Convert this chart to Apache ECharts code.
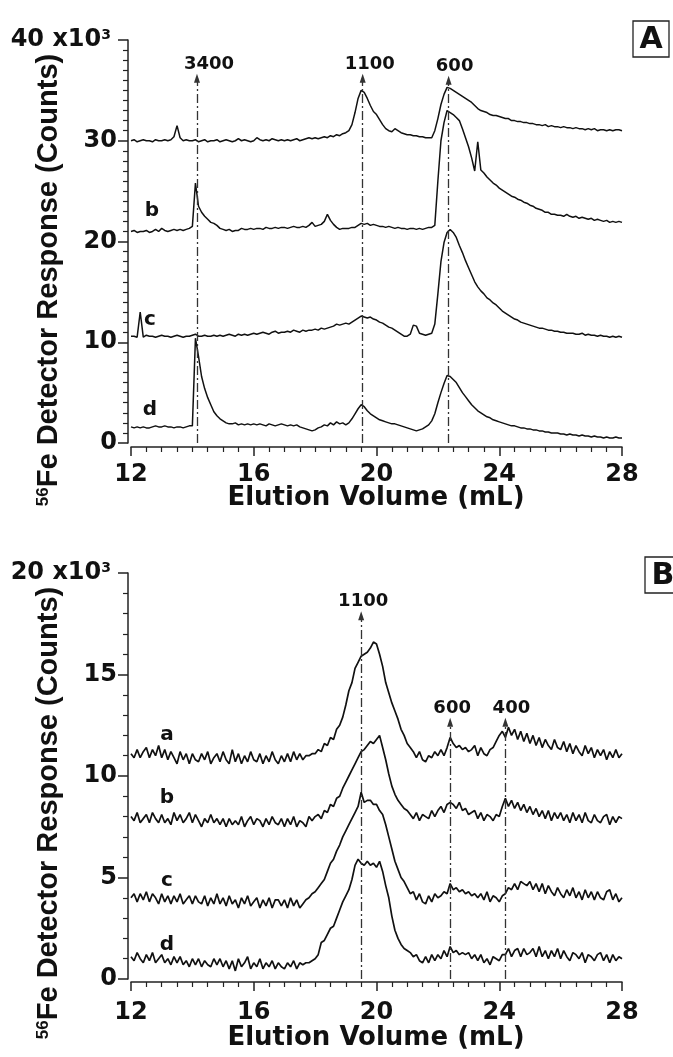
<!DOCTYPE html>
<html>
<head>
<meta charset="utf-8">
<script src="https://cdn.jsdelivr.net/npm/echarts@6/dist/echarts.min.js"></script>
<style>
  html, body { margin: 0; padding: 0; background: #fff; }
  #chart { width: 673px; height: 1057px; }
</style>
</head>
<body>
<div id="chart"></div>
<script>
// Elution volume grid (mL): 12.0 to 28.0 sampled every 0.1 mL
const VOLUME_START = 12;
const VOLUME_STEP = 0.1;
const VOLUME_COUNT = 161;
const volumes = Array.from({ length: VOLUME_COUNT }, (_, i) => +(VOLUME_START + i * VOLUME_STEP).toFixed(1));

// Panel A traces, counts x10^3 (offset stacked)
const panelA_a = [
  30.0, 30.1, 29.9, 30.0, 30.1, 30.0, 30.0, 29.9, 30.1, 30.0,
  30.0, 30.1, 30.0, 30.1, 30.4, 31.5, 30.3, 30.0, 30.1, 30.0,
  30.0, 30.1, 29.9, 30.0, 30.1, 29.9, 30.0, 30.0, 30.1, 29.9,
  30.0, 30.1, 30.0, 29.9, 30.0, 30.2, 30.0, 30.1, 30.0, 29.9,
  30.0, 30.3, 30.1, 30.0, 30.1, 30.0, 30.2, 30.1, 30.0, 30.1,
  30.0, 30.1, 30.0, 30.1, 30.2, 30.0, 30.1, 30.2, 30.3, 30.2,
  30.3, 30.2, 30.3, 30.4, 30.3, 30.5, 30.4, 30.6, 30.5, 30.7,
  30.8, 31.0, 31.6, 32.8, 34.2, 35.0, 34.8, 34.2, 33.5, 32.9,
  32.6, 32.1, 31.6, 31.2, 31.0, 30.9, 31.2, 31.0, 30.8, 30.7,
  30.6, 30.6, 30.5, 30.5, 30.4, 30.4, 30.3, 30.3, 30.3, 31.0,
  32.2, 33.6, 34.6, 35.3, 35.2, 35.0, 34.8, 34.6, 34.4, 34.2,
  34.0, 33.8, 33.5, 33.2, 33.0, 32.9, 32.8, 32.6, 32.5, 32.5,
  32.4, 32.3, 32.2, 32.2, 32.0, 32.0, 31.9, 31.9, 31.8, 31.8,
  31.7, 31.7, 31.6, 31.6, 31.5, 31.6, 31.4, 31.5, 31.4, 31.4,
  31.3, 31.4, 31.3, 31.3, 31.2, 31.3, 31.2, 31.2, 31.1, 31.2,
  31.1, 31.2, 31.0, 31.1, 31.1, 31.0, 31.1, 31.0, 31.1, 31.1,
  31.0
];
const panelA_b = [
  21.0, 21.1, 20.9, 21.0, 21.0, 21.1, 20.9, 21.0, 21.2, 21.0,
  21.3, 21.1, 21.0, 21.1, 21.2, 21.1, 21.2, 21.1, 21.2, 21.3,
  21.5, 25.8, 23.5, 22.9, 22.5, 22.2, 21.9, 21.8, 21.6, 21.3,
  21.2, 21.1, 21.2, 21.0, 21.1, 21.1, 21.3, 21.2, 21.2, 21.3,
  21.2, 21.3, 21.3, 21.2, 21.4, 21.3, 21.3, 21.4, 21.3, 21.4,
  21.4, 21.3, 21.4, 21.5, 21.4, 21.4, 21.5, 21.4, 21.6, 21.9,
  21.5, 21.6, 21.7, 22.0, 22.7, 22.1, 21.7, 21.4, 21.2, 21.3,
  21.3, 21.3, 21.4, 21.4, 21.6, 21.8, 21.7, 21.8, 21.6, 21.7,
  21.6, 21.5, 21.5, 21.4, 21.5, 21.4, 21.3, 21.4, 21.3, 21.3,
  21.2, 21.3, 21.3, 21.2, 21.3, 21.2, 21.3, 21.4, 21.4, 21.6,
  26.0, 30.0, 31.8, 33.0, 32.8, 32.6, 32.3, 32.0, 31.2, 30.3,
  29.4, 28.3, 27.0, 29.9, 27.1, 26.8, 26.4, 26.1, 25.8, 25.6,
  25.3, 25.1, 24.9, 24.7, 24.5, 24.4, 24.2, 24.1, 23.9, 23.8,
  23.6, 23.5, 23.3, 23.2, 23.1, 22.9, 22.9, 22.7, 22.7, 22.6,
  22.6, 22.5, 22.7, 22.5, 22.4, 22.5, 22.3, 22.4, 22.3, 22.2,
  22.3, 22.1, 22.2, 22.1, 22.0, 22.1, 21.9, 22.0, 21.9, 22.0,
  21.9
];
const panelA_c = [
  10.6, 10.6, 10.5, 13.0, 10.5, 10.7, 10.6, 10.6, 10.5, 10.6,
  10.7, 10.6, 10.6, 10.5, 10.6, 10.7, 10.6, 10.5, 10.6, 10.6,
  10.7, 10.8, 10.6, 10.6, 10.7, 10.6, 10.6, 10.7, 10.6, 10.7,
  10.6, 10.7, 10.8, 10.7, 10.6, 10.8, 10.7, 10.8, 10.7, 10.8,
  10.9, 10.8, 10.9, 11.0, 10.9, 10.8, 11.0, 11.1, 10.9, 11.0,
  11.0, 11.1, 11.0, 11.2, 11.1, 11.0, 11.2, 11.1, 11.2, 11.2,
  11.3, 11.2, 11.4, 11.3, 11.4, 11.5, 11.6, 11.8, 11.7, 11.8,
  11.9, 11.8, 12.0, 12.2, 12.4, 12.6, 12.5, 12.4, 12.5, 12.3,
  12.2, 12.0, 11.9, 11.7, 11.5, 11.4, 11.2, 11.0, 10.8, 10.6,
  10.6, 10.8, 11.7, 11.6, 10.9, 10.8, 10.7, 10.8, 10.9, 11.8,
  14.8, 18.0, 19.9, 20.9, 21.2, 20.9, 20.4, 19.6, 18.9, 18.1,
  17.4, 16.7, 16.0, 15.5, 15.1, 14.8, 14.4, 14.2, 13.9, 13.7,
  13.4, 13.1, 12.9, 12.7, 12.5, 12.3, 12.2, 12.0, 11.9, 11.8,
  11.7, 11.6, 11.5, 11.4, 11.4, 11.3, 11.2, 11.2, 11.1, 11.1,
  11.0, 11.0, 10.9, 10.9, 10.9, 10.8, 10.8, 10.9, 10.7, 10.8,
  10.7, 10.7, 10.6, 10.7, 10.6, 10.6, 10.5, 10.6, 10.5, 10.6,
  10.5
];
const panelA_d = [
  1.6, 1.5, 1.6, 1.5, 1.6, 1.5, 1.5, 1.6, 1.7, 1.6,
  1.6, 1.7, 1.6, 1.6, 1.5, 1.6, 1.6, 1.5, 1.6, 1.7,
  1.7, 10.4, 8.6, 6.6, 5.4, 4.5, 3.8, 3.1, 2.7, 2.4,
  2.2, 2.0, 1.9, 1.9, 2.0, 1.8, 1.9, 1.8, 1.9, 1.8,
  1.9, 1.8, 1.9, 1.8, 1.7, 1.9, 1.8, 1.7, 1.8, 1.9,
  1.8, 1.7, 1.8, 1.7, 1.8, 1.6, 1.5, 1.4, 1.3, 1.2,
  1.3, 1.5, 1.6, 1.8, 1.7, 2.0, 1.8, 2.1, 1.9, 2.0,
  1.8, 2.0, 2.4, 2.9, 3.4, 3.8, 3.6, 3.2, 2.9, 2.7,
  2.5, 2.3, 2.2, 2.1, 2.0, 1.9, 1.9, 1.8, 1.7, 1.6,
  1.5, 1.4, 1.3, 1.2, 1.3, 1.4, 1.6, 1.8, 2.2, 2.9,
  4.0, 5.0, 5.9, 6.7, 6.6, 6.3, 6.0, 5.5, 5.0, 4.6,
  4.2, 3.8, 3.5, 3.2, 3.0, 2.8, 2.6, 2.5, 2.3, 2.2,
  2.1, 2.0, 1.9, 1.8, 1.7, 1.7, 1.6, 1.5, 1.5, 1.4,
  1.4, 1.3, 1.3, 1.2, 1.2, 1.1, 1.1, 1.0, 1.0, 1.0,
  0.9, 0.9, 0.8, 0.9, 0.8, 0.8, 0.7, 0.8, 0.7, 0.7,
  0.6, 0.7, 0.6, 0.6, 0.5, 0.6, 0.5, 0.5, 0.6, 0.5,
  0.5
];

// Panel B traces, counts x10^3 (offset stacked)
const panelB_a = [
  11.1, 10.9, 11.3, 10.9, 11.2, 11.4, 10.9, 11.3, 11.0, 11.5,
  10.9, 11.3, 10.8, 11.2, 10.9, 10.6, 11.2, 10.8, 11.1, 10.6,
  11.1, 10.8, 10.7, 11.1, 10.8, 11.2, 10.6, 10.9, 11.1, 10.7,
  11.2, 10.8, 10.6, 11.3, 10.7, 11.1, 10.6, 11.0, 10.7, 11.2,
  10.8, 10.7, 11.1, 10.6, 11.0, 10.7, 11.2, 10.8, 10.6, 11.0,
  10.7, 11.1, 10.7, 11.2, 10.8, 11.1, 10.8, 11.0, 11.0, 11.1,
  11.1, 11.3, 11.2, 11.6, 11.5, 11.9, 11.8, 12.3, 12.5, 12.9,
  13.5, 14.2, 14.6, 15.3, 15.6, 15.9, 16.0, 16.1, 16.3, 16.6,
  16.5, 16.0, 15.4, 14.6, 14.1, 13.6, 13.2, 12.8, 12.3, 12.0,
  11.6, 11.4, 11.2, 10.9, 11.2, 10.8, 10.7, 11.0, 10.9, 11.2,
  11.0, 11.3, 11.0, 11.4, 11.9, 11.6, 11.4, 11.5, 11.3, 11.4,
  11.2, 11.3, 11.5, 11.0, 11.4, 11.1, 11.0, 11.3, 11.4, 11.7,
  12.0, 12.2, 11.9, 12.4, 12.0, 12.3, 11.8, 12.2, 11.7, 12.1,
  11.6, 12.0, 11.5, 11.9, 11.4, 11.8, 11.5, 11.3, 11.8, 11.4,
  11.3, 11.7, 11.2, 11.6, 11.1, 11.5, 11.2, 11.0, 11.5, 11.1,
  11.4, 10.9, 11.3, 11.0, 11.3, 10.8, 11.2, 10.9, 11.3, 10.9,
  11.1
];
const panelB_b = [
  8.0, 7.8, 8.2, 7.7, 7.9, 8.1, 7.7, 8.2, 7.9, 7.7,
  8.1, 7.7, 7.9, 7.6, 8.2, 7.8, 8.1, 7.7, 7.9, 8.2,
  7.7, 8.1, 7.8, 7.5, 7.9, 7.7, 8.1, 7.7, 7.9, 7.6,
  7.9, 7.5, 7.9, 7.6, 7.8, 7.6, 8.0, 7.5, 7.8, 8.0,
  7.6, 7.9, 7.8, 7.5, 7.9, 7.6, 8.0, 7.7, 7.6, 7.9,
  7.5, 7.9, 7.6, 8.0, 7.5, 7.8, 7.7, 7.5, 8.0, 7.8,
  8.0, 8.1, 7.9, 8.3, 8.2, 8.6, 8.5, 8.9, 9.0, 9.4,
  9.7, 10.0, 10.3, 10.6, 10.9, 11.2, 11.3, 11.5, 11.7, 11.6,
  11.8, 12.0, 11.4, 10.8, 10.1, 9.5, 9.1, 8.8, 8.6, 8.4,
  8.3, 8.1, 7.9, 8.2, 7.8, 8.1, 8.0, 7.9, 8.3, 8.0,
  8.3, 8.5, 8.2, 8.6, 8.7, 8.6, 8.4, 8.7, 8.3, 8.4,
  8.1, 8.2, 8.3, 7.9, 8.2, 7.8, 8.1, 8.0, 7.8, 8.1,
  8.0, 8.5, 8.9, 8.5, 8.8, 8.4, 8.7, 8.3, 8.6, 8.2,
  8.5, 8.1, 8.4, 8.0, 8.3, 7.9, 8.3, 7.8, 8.2, 7.9,
  8.2, 7.8, 8.1, 7.7, 8.2, 7.8, 8.1, 7.7, 8.2, 7.8,
  7.7, 8.1, 7.8, 7.7, 8.0, 8.1, 7.6, 8.0, 7.7, 8.0,
  7.9
];
const panelB_c = [
  4.0, 4.2, 3.8, 4.2, 3.9, 4.3, 3.8, 4.2, 4.0, 3.7,
  4.2, 3.8, 4.1, 3.7, 4.1, 3.8, 4.2, 3.7, 3.9, 4.1,
  3.7, 4.1, 3.8, 3.7, 4.1, 3.6, 4.0, 3.7, 4.2, 3.7,
  4.0, 3.6, 4.1, 3.7, 3.9, 3.5, 4.0, 3.7, 4.1, 3.6,
  3.8, 4.0, 3.5, 3.9, 3.6, 4.0, 3.5, 3.9, 3.9, 3.6,
  3.9, 3.5, 4.0, 3.6, 3.9, 3.5, 3.7, 3.9, 4.0, 4.2,
  4.3, 4.5, 4.7, 4.9, 5.3, 5.7, 5.9, 6.3, 6.6, 7.0,
  7.3, 7.6, 7.9, 8.2, 8.5, 9.2, 8.7, 8.8, 8.8, 8.6,
  8.6, 8.3, 8.1, 7.6, 7.0, 6.4, 5.8, 5.4, 5.0, 4.8,
  4.5, 4.2, 4.3, 3.9, 4.2, 3.8, 3.7, 4.1, 3.8, 4.2,
  4.0, 4.1, 4.3, 4.2, 4.7, 4.4, 4.5, 4.3, 4.4, 4.2,
  4.3, 4.1, 4.2, 4.0, 4.2, 3.9, 4.3, 3.8, 4.1, 4.0,
  3.8, 4.1, 4.2, 4.5, 4.4, 4.7, 4.4, 4.8, 4.7, 4.6,
  4.8, 4.4, 4.7, 4.3, 4.7, 4.2, 4.6, 4.3, 4.1, 4.5,
  4.2, 4.0, 4.4, 4.1, 4.5, 4.0, 4.3, 3.9, 4.4, 4.0,
  4.3, 3.9, 4.3, 4.0, 3.9, 4.3, 4.4, 3.9, 4.2, 3.8,
  4.0
];
const panelB_d = [
  1.1, 0.9, 1.3, 1.0, 0.8, 1.2, 0.9, 1.3, 0.8, 1.0,
  1.2, 0.8, 1.0, 0.7, 1.1, 0.8, 1.1, 0.7, 0.9, 0.6,
  1.0, 0.7, 1.0, 0.6, 0.9, 0.7, 0.6, 1.0, 0.7, 1.0,
  0.6, 0.9, 0.5, 0.9, 0.4, 1.0, 0.6, 0.8, 1.1, 0.5,
  0.8, 0.6, 1.0, 0.5, 0.8, 0.6, 0.9, 0.5, 0.8, 0.6,
  0.5, 0.8, 0.6, 0.9, 0.5, 0.8, 0.7, 0.8, 0.8, 0.9,
  1.0, 1.2, 1.8, 1.9, 2.2, 2.5, 2.6, 3.0, 3.4, 3.8,
  4.1, 4.4, 4.9, 5.6, 5.9, 5.7, 5.6, 5.8, 5.6, 5.7,
  5.5, 5.8, 5.3, 4.6, 4.0, 3.1, 2.4, 2.0, 1.7, 1.5,
  1.4, 1.3, 1.1, 1.2, 0.9, 0.8, 1.1, 0.8, 1.2, 0.9,
  1.2, 1.0, 1.4, 1.1, 1.6, 1.3, 1.4, 1.2, 1.3, 1.2,
  1.3, 1.0, 1.2, 0.9, 1.2, 0.8, 1.0, 0.7, 1.1, 1.0,
  0.9, 1.2, 1.2, 1.5, 1.1, 1.4, 1.5, 1.1, 1.5, 1.2,
  1.3, 1.5, 1.1, 1.6, 1.1, 1.4, 1.0, 1.4, 1.1, 1.5,
  1.0, 1.4, 1.1, 0.9, 1.3, 1.2, 1.0, 1.3, 0.8, 1.2,
  1.1, 0.9, 1.2, 1.3, 0.9, 1.2, 0.8, 1.2, 0.9, 1.1,
  1.0
];

// Molecular-weight markers (kDa) with their elution volumes and arrow-tip heights
const markerLabelsA = ['3400', '1100', '600'];
const markerVolumesA = [14.15, 19.55, 22.35];
const markerTipsA = [36.2, 36.2, 36.0];
const markerLabelsB = ['1100', '600', '400'];
const markerVolumesB = [19.5, 22.4, 24.2];
const markerTipsB = [17.9, 12.65, 12.65];

// Axis tick values
const xTicks = { min: 12, max: 28, interval: 4 };
const yTicksA = { min: 0, max: 40, interval: 10 };
const yTicksB = { min: 0, max: 20, interval: 5 };

// Horizontal nudges (px) for the marker captions
const markerShiftA = [12, 7, 6];
const markerShiftB = [2, 2, 6];

const INK = '#111';
const BOLD = { fontFamily: 'DejaVu Sans', fontWeight: 'bold', color: INK };

function toPairs(vals) { return vals.map((v, i) => [volumes[i], v]); }

function xAxisFor(gridIndex, offset, labelMargin) {
  return {
    type: 'value', gridIndex, min: xTicks.min, max: xTicks.max, interval: xTicks.interval,
    offset,
    axisLine: { show: true, onZero: false, lineStyle: { color: '#222', width: 1.5 } },
    axisTick: { show: true, length: 9, lineStyle: { color: '#222', width: 1.5 } },
    minorTick: { show: true, splitNumber: 8, length: 5, lineStyle: { color: '#222', width: 1.2 } },
    splitLine: { show: false },
    axisLabel: Object.assign({ fontSize: 24, margin: labelMargin }, BOLD)
  };
}

function yAxisFor(gridIndex, ticks, minorSplit) {
  return {
    type: 'value', gridIndex, min: ticks.min, max: ticks.max, interval: ticks.interval,
    offset: 3,
    axisLine: { show: true, onZero: false, lineStyle: { color: '#222', width: 1.5 } },
    axisTick: { show: true, length: 10, lineStyle: { color: '#222', width: 1.5 } },
    minorTick: { show: true, splitNumber: minorSplit, length: 5, lineStyle: { color: '#222', width: 1.2 } },
    splitLine: { show: false },
    axisLabel: Object.assign({
      fontSize: 24, margin: 11,
      formatter: v => (v === ticks.max ? '{n|' + v + ' x10}{s|3}' : String(v)),
      rich: {
        n: Object.assign({ fontSize: 24 }, BOLD),
        s: Object.assign({ fontSize: 14, verticalAlign: 'top', padding: [0, 6, 0, 0] }, BOLD)
      }
    }, BOLD)
  };
}

function markerLines(labels, vols, tips, shifts) {
  return {
    silent: true,
    animation: false,
    symbol: ['none', 'triangle'],
    symbolSize: [6, 9],
    lineStyle: { color: '#333', width: 1.3, type: [9, 3, 2, 3] },
    label: Object.assign({ show: true, position: 'end', distance: 5, fontSize: 18, formatter: p => p.name }, BOLD),
    emphasis: { disabled: true },
    data: labels.map((name, i) => [
      { name, coord: [vols[i], 0] },
      { coord: [vols[i], tips[i]], label: { offset: [shifts[i], 0] } }
    ])
  };
}

function trace(data, gridIndex, width, extra) {
  return Object.assign({
    type: 'line', xAxisIndex: gridIndex, yAxisIndex: gridIndex,
    data: toPairs(data), showSymbol: false, symbol: 'none',
    lineStyle: { color: INK, width }, silent: true, animation: false
  }, extra || {});
}

function curveLabel(text, x, y) {
  return { type: 'text', x, y, style: { text, fontFamily: 'DejaVu Sans', fontWeight: 'bold', fontSize: 20, align: 'center', verticalAlign: 'middle', fill: INK } };
}

function yTitle(cy) {
  return {
    type: 'text', x: 49, y: cy, rotation: Math.PI / 2,
    style: {
      text: '{sup|56}{main|Fe Detector Response (Counts)}',
      align: 'center', verticalAlign: 'middle',
      rich: {
        sup: { fontFamily: 'Liberation Sans', fontWeight: 'bold', fontSize: 17, fill: INK, verticalAlign: 'top' },
        main: { fontFamily: 'Liberation Sans', fontWeight: 'bold', fontSize: 29, fill: INK }
      }
    }
  };
}

function xTitle(cy) {
  return {
    type: 'text', x: 376, y: cy,
    style: { text: 'Elution Volume (mL)', fontFamily: 'DejaVu Sans', fontWeight: 'bold', fontSize: 26, fill: INK, align: 'center', verticalAlign: 'middle' }
  };
}

function panelTag(letter, x, y) {
  return [
    { type: 'rect', shape: { x, y, width: 36, height: 36 }, style: { fill: '#fff', stroke: '#222', lineWidth: 1.3 } },
    { type: 'text', x: x + 18, y: y + 19, style: { text: letter, fontFamily: 'DejaVu Sans', fontWeight: 'bold', fontSize: 30, fill: INK, align: 'center', verticalAlign: 'middle' } }
  ];
}

const chart = echarts.init(document.getElementById('chart'), null, { renderer: 'canvas' });
chart.setOption({
  backgroundColor: '#fff',
  animation: false,
  grid: [
    { left: 131, top: 40, width: 491, height: 403 },
    { left: 131, top: 573, width: 491, height: 406 }
  ],
  xAxis: [xAxisFor(0, 4, 16), xAxisFor(1, 3, 19)],
  yAxis: [yAxisFor(0, yTicksA, 10), yAxisFor(1, yTicksB, 5)],
  series: [
    trace(panelA_a, 0, 1.5, { markLine: markerLines(markerLabelsA, markerVolumesA, markerTipsA, markerShiftA) }),
    trace(panelA_b, 0, 1.5),
    trace(panelA_c, 0, 1.5),
    trace(panelA_d, 0, 1.5),
    trace(panelB_a, 1, 1.7, { markLine: markerLines(markerLabelsB, markerVolumesB, markerTipsB, markerShiftB) }),
    trace(panelB_b, 1, 1.7),
    trace(panelB_c, 1, 1.7),
    trace(panelB_d, 1, 1.7)
  ],
  graphic: [
    yTitle(280),
    yTitle(813),
    xTitle(498),
    xTitle(1038),
    curveLabel('b', 152, 211),
    curveLabel('c', 150, 320),
    curveLabel('d', 150, 410),
    curveLabel('a', 167, 735),
    curveLabel('b', 167, 798),
    curveLabel('c', 167, 881),
    curveLabel('d', 167, 945),
    ...panelTag('A', 633, 21),
    ...panelTag('B', 645, 557)
  ]
});
</script>
</body>
</html>
